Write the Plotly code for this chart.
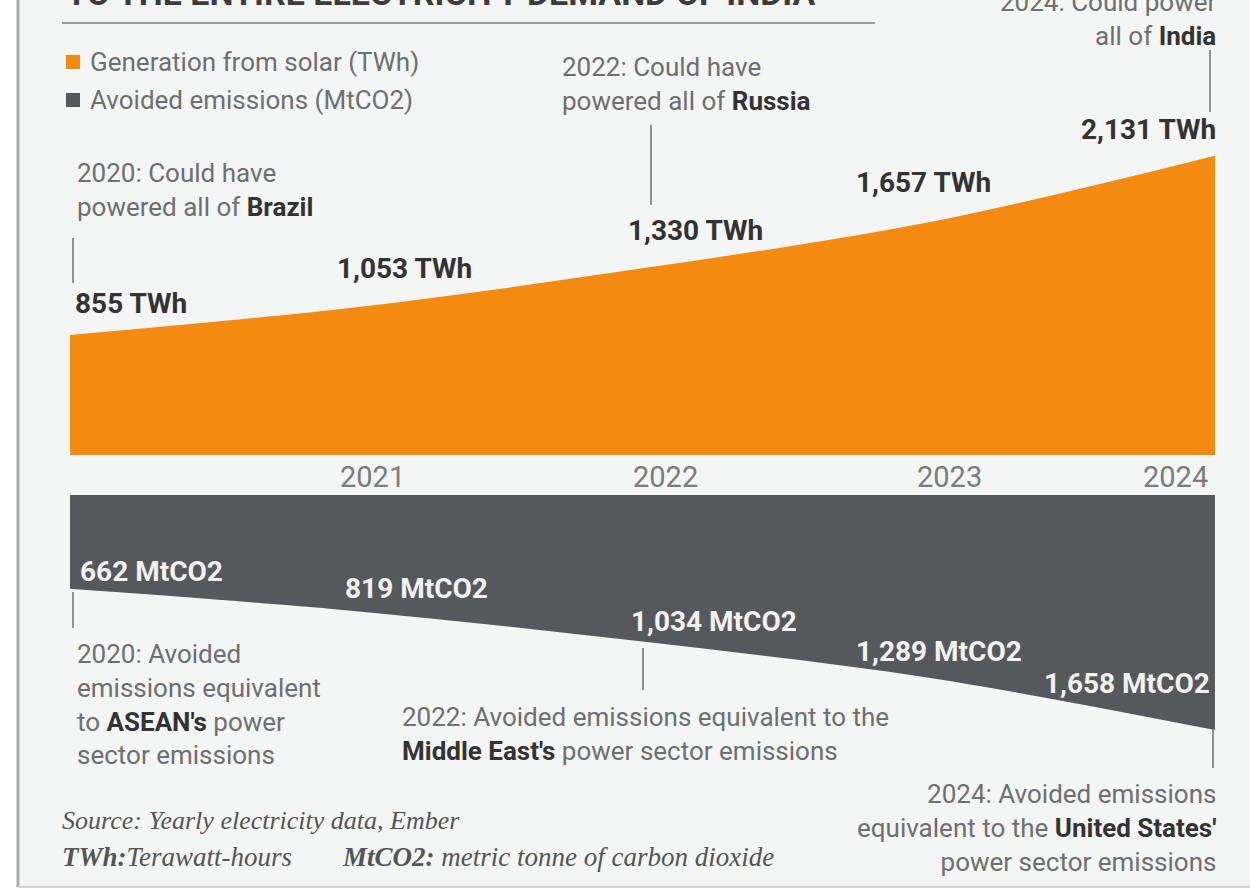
import plotly.graph_objects as go

# ---------------- data ----------------
years = [2020, 2021, 2022, 2023, 2024]
solar_twh = [855, 1053, 1330, 1657, 2131]
avoided_mtco2 = [662, 819, 1034, 1289, 1658]
solar_labels = ["855 TWh", "1,053 TWh", "1,330 TWh", "1,657 TWh", "2,131 TWh"]
avoided_labels = ["662 MtCO2", "819 MtCO2", "1,034 MtCO2", "1,289 MtCO2", "1,658 MtCO2"]
tick_years = [2021, 2022, 2023, 2024]
tick_labels = ["2021", "2022", "2023", "2024"]
legend_names = ["Generation from solar (TWh)", "Avoided emissions (MtCO2)"]

# ---------------- style ----------------
W, H = 1250, 895
def px(x): return x / W
def py(y): return 1 - y / H

ORANGE = "#f58a10"
GREY_AREA = "#56595c"
BG = "#f4f5f5"
TXT = "#6d6f71"
DARK = "#333333"
FONT = "Roboto"

K1 = 0.1404   # px per TWh
K2 = 0.1418   # px per MtCO2
Y1_MAX, Y2_MAX = 2400, 1800

fig = go.Figure()
fig.add_trace(go.Scatter(
    x=years, y=solar_twh, mode="lines", name=legend_names[0],
    line=dict(shape="spline", color=ORANGE, width=0),
    fill="tozeroy", fillcolor=ORANGE, xaxis="x", yaxis="y",
    hoverinfo="skip", showlegend=False))
fig.add_trace(go.Scatter(
    x=years, y=avoided_mtco2, mode="lines", name=legend_names[1],
    line=dict(shape="spline", color=GREY_AREA, width=0),
    fill="tozeroy", fillcolor=GREY_AREA, xaxis="x2", yaxis="y2",
    hoverinfo="skip", showlegend=False))

xdom = [px(70), px(1215)]
fig.update_layout(
    width=W, height=H, margin=dict(l=0, r=0, t=0, b=0),
    paper_bgcolor="#ffffff", plot_bgcolor="rgba(0,0,0,0)",
    xaxis=dict(domain=xdom, range=[2020, 2024], visible=False, anchor="y", fixedrange=True),
    yaxis=dict(domain=[py(455), py(455 - Y1_MAX * K1)], range=[0, Y1_MAX], visible=False, fixedrange=True),
    xaxis2=dict(domain=xdom, range=[2020, 2024], visible=False, anchor="y2", fixedrange=True),
    yaxis2=dict(domain=[py(495 + Y2_MAX * K2), py(495)], range=[Y2_MAX, 0], visible=False, fixedrange=True),
    showlegend=False,
)

shapes = []
# background panel with left and bottom border
shapes.append(dict(type="rect", xref="paper", yref="paper", x0=px(18), x1=1.01, y0=py(887), y1=1.01,
                   fillcolor=BG, line=dict(width=0), layer="below"))
shapes.append(dict(type="line", xref="paper", yref="paper", x0=px(18), x1=px(18), y0=py(887), y1=1.01,
                   line=dict(color="#a9abad", width=3)))
shapes.append(dict(type="line", xref="paper", yref="paper", x0=px(18), x1=1.01, y0=py(887), y1=py(887),
                   line=dict(color="#d0d2d3", width=2)))
# title underline
shapes.append(dict(type="line", xref="paper", yref="paper", x0=px(62), x1=px(875), y0=py(23), y1=py(23),
                   line=dict(color="#9a9c9e", width=2)))
# legend swatches
shapes.append(dict(type="rect", xref="paper", yref="paper", x0=px(66), x1=px(80), y0=py(69), y1=py(55),
                   fillcolor=ORANGE, line=dict(width=0)))
shapes.append(dict(type="rect", xref="paper", yref="paper", x0=px(66), x1=px(80), y0=py(107), y1=py(93),
                   fillcolor=GREY_AREA, line=dict(width=0)))
# leader lines
for (x, y0, y1) in [(73, 238, 283), (651, 125, 205), (1210, 50, 112),
                    (73, 592, 628), (643, 648, 690), (1213, 730, 768)]:
    shapes.append(dict(type="line", xref="paper", yref="paper", x0=px(x), x1=px(x), y0=py(y0), y1=py(y1),
                       line=dict(color="#6f7173", width=1.5)))
fig.update_layout(shapes=shapes)

ann = []
def text(x, y, t, size=26, color=TXT, xanchor="left", family=FONT, yanchor="middle", align="left"):
    ann.append(dict(xref="paper", yref="paper", x=px(x), y=py(y), text=t, showarrow=False,
                    xanchor=xanchor, yanchor=yanchor, align=align,
                    font=dict(family=family, size=size, color=color)))

def b(s):
    return f"<span style='color:{DARK}'><b>{s}</b></span>"

# cut-off title
text(64, -7, "<b>TO THE ENTIRE ELECTRICITY DEMAND OF INDIA</b>", size=34, color="#3c3c3c")
# legend texts
text(88, 62, legend_names[0], size=26)
text(88, 100, legend_names[1], size=26)

# callouts (top)
text(560, 84, "2022: Could have<br>powered all of " + b("Russia"))
text(75, 190, "2020: Could have<br>powered all of " + b("Brazil"))
text(1218, 19, "2024: Could power<br>all of " + b("India"), xanchor="right", align="right")

# callouts (bottom)
text(75, 704, "2020: Avoided<br>emissions equivalent<br>to " + b("ASEAN's") + " power<br>sector emissions")
text(400, 734, "2022: Avoided emissions equivalent to the<br>" + b("Middle East's") + " power sector emissions")
text(1218, 828, "2024: Avoided emissions<br>equivalent to the " + b("United States'") + "<br>power sector emissions",
     xanchor="right", align="right")

# source
SERIF = "Liberation Serif"
text(60, 820, "<i>Source: Yearly electricity data, Ember</i>", size=26, color="#555555", family=SERIF)
text(60, 857, "<b><i>TWh:</i></b><i>Terawatt-hours</i>", size=27, color="#555555", family=SERIF)
text(340, 857, "<b><i>MtCO2:</i></b><i> metric tonne of carbon dioxide</i>", size=27, color="#555555", family=SERIF)

fig.update_layout(annotations=ann)

# value labels tied to the data (shifts in px relative to the data point)
solar_shift = [(3, 31, "left"), (48, 39, "center"), (53, 38, "center"), (-5, 40, "center"), (3, 26, "right")]
for xv, yv, lab, (xs, ys, xa) in zip(years, solar_twh, solar_labels, solar_shift):
    fig.add_annotation(xref="x", yref="y", x=xv, y=yv, text=f"<b>{lab}</b>", showarrow=False,
                       xanchor=xa, yanchor="middle", xshift=xs, yshift=ys,
                       font=dict(family=FONT, size=28, color=DARK))

avoided_shift = [(8, 17, "left"), (60, 23, "center"), (71, 20, "center"), (10, 26, "center"), (-3, 47, "right")]
for xv, yv, lab, (xs, ys, xa) in zip(years, avoided_mtco2, avoided_labels, avoided_shift):
    fig.add_annotation(xref="x2", yref="y2", x=xv, y=yv, text=f"<b>{lab}</b>", showarrow=False,
                       xanchor=xa, yanchor="middle", xshift=xs, yshift=ys,
                       font=dict(family=FONT, size=28, color="#f2f2f2"))

# year labels between the two areas
tick_shift = [(16, "center"), (23, "center"), (21, "center"), (-5, "right")]
for xv, lab, (xs, xa) in zip(tick_years, tick_labels, tick_shift):
    fig.add_annotation(xref="x", yref="paper", x=xv, y=py(477), text=lab, showarrow=False,
                       xanchor=xa, yanchor="middle", xshift=xs,
                       font=dict(family=FONT, size=29, color="#7a7c7e"))

fig.write_html("out.html")
